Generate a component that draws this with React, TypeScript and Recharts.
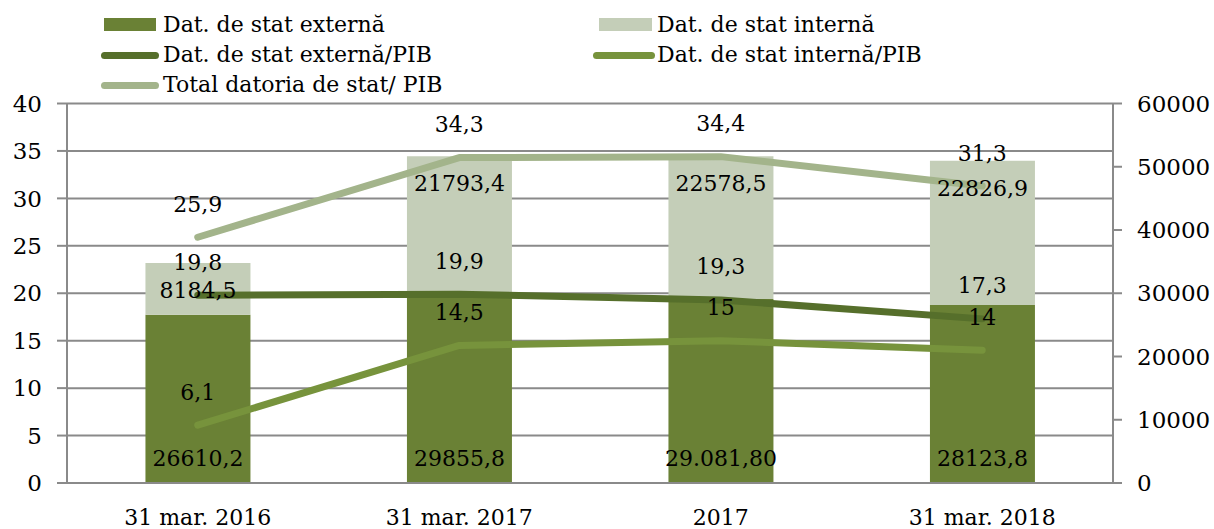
import React from 'react';
import { ComposedChart, Bar, Line, XAxis, YAxis, CartesianGrid, LabelList } from 'recharts';

const categories = ['31 mar. 2016', '31 mar. 2017', '2017', '31 mar. 2018'];
const extDebt = [26610.2, 29855.8, 29081.8, 28123.8];
const intDebt = [8184.5, 21793.4, 22578.5, 22826.9];
const extLabels = ['26610,2', '29855,8', '29.081,80', '28123,8'];
const intLabels = ['8184,5', '21793,4', '22578,5', '22826,9'];
const extPib = [19.8, 19.9, 19.3, 17.3];
const intPib = [6.1, 14.5, 15, 14];
const totalPib = [25.9, 34.3, 34.4, 31.3];
const leftTicks = [0, 5, 10, 15, 20, 25, 30, 35, 40];
const rightTicks = [0, 10000, 20000, 30000, 40000, 50000, 60000];
const boundaryTicks = [0, 1, 2, 3, 4];

const data = categories.map((c, i) => ({
  cat: c,
  ext: extDebt[i],
  int: intDebt[i],
  extPib: extPib[i],
  intPib: intPib[i],
  totalPib: totalPib[i],
}));

const FONT = "'DejaVu Serif', serif";
const GRID = '#8a8a8a';
const C_EXT = '#6a8135';
const C_INT = '#c4ceb8';
const C_EXTPIB = '#566f2b';
const C_INTPIB = '#77933c';
const C_TOTAL = '#a3b48b';

const fmt = (v: number) => String(v).replace('.', ',');

const txt = { fontFamily: FONT, fontSize: 22, fill: '#000' };

const LineLabel = (p: any) => (
  <text x={p.x} y={p.y - 33} textAnchor="middle" dominantBaseline="central" style={txt}>
    {fmt(p.value)}
  </text>
);

const ExtLabel = (p: any) => (
  <text x={p.x + p.width / 2} y={p.y + p.height - 25} textAnchor="middle" dominantBaseline="central" style={txt}>
    {extLabels[p.index]}
  </text>
);

const IntLabel = (p: any) => (
  <text x={p.x + p.width / 2} y={p.y + 27.5} textAnchor="middle" dominantBaseline="central" style={txt}>
    {intLabels[p.index]}
  </text>
);

const legendText: React.CSSProperties = {
  position: 'absolute',
  fontFamily: FONT,
  fontSize: 22,
  lineHeight: '30px',
  color: '#000',
  whiteSpace: 'nowrap',
};

const Legend = () => (
  <div style={{ position: 'absolute', left: 0, top: 0, width: 1214, height: 100, pointerEvents: 'none' }}>
    <div style={{ position: 'absolute', left: 104, top: 18, width: 52, height: 13, background: C_EXT }} />
    <div style={{ ...legendText, left: 163, top: 10 }}>Dat. de stat externă</div>
    <div style={{ position: 'absolute', left: 599, top: 18, width: 53, height: 13, background: C_INT }} />
    <div style={{ ...legendText, left: 657, top: 10 }}>Dat. de stat internă</div>
    <div style={{ position: 'absolute', left: 101, top: 51.5, width: 58, height: 7, borderRadius: 3.5, background: C_EXTPIB }} />
    <div style={{ ...legendText, left: 163, top: 40 }}>Dat. de stat externă/PIB</div>
    <div style={{ position: 'absolute', left: 593, top: 51.5, width: 62, height: 7, borderRadius: 3.5, background: C_INTPIB }} />
    <div style={{ ...legendText, left: 657, top: 40 }}>Dat. de stat internă/PIB</div>
    <div style={{ position: 'absolute', left: 101, top: 81.5, width: 58, height: 7, borderRadius: 3.5, background: C_TOTAL }} />
    <div style={{ ...legendText, left: 163, top: 70 }}>Total datoria de stat/ PIB</div>
  </div>
);

export default function App() {
  return (
    <div style={{ position: 'absolute', left: 0, top: 0, width: 1214, height: 529, background: '#fff' }}>
      <ComposedChart
        width={1214}
        height={529}
        data={data}
        margin={{ top: 103.5, right: 0, bottom: 0, left: 0 }}
        barCategoryGap="30%"
      >
        <CartesianGrid
          yAxisId="left"
          xAxisId="cat"
          horizontal
          vertical={false}
          stroke={GRID}
          strokeWidth={2}
        />
        <XAxis
          xAxisId="b"
          type="number"
          domain={[0, 4]}
          ticks={boundaryTicks}
          allowDataOverflow
          tick={false}
          tickSize={9}
          tickLine={{ stroke: GRID, strokeWidth: 2 }}
          axisLine={{ stroke: GRID, strokeWidth: 2 }}
          height={1}
        />
        <XAxis
          xAxisId="cat"
          dataKey="cat"
          interval={0}
          tickLine={false}
          axisLine={false}
          tickSize={0}
          tickMargin={25}
          height={45}
          tick={{ fontFamily: FONT, fontSize: 22, fill: '#000' }}
        />
        <YAxis
          yAxisId="left"
          domain={[0, 40]}
          ticks={leftTicks}
          interval={0}
          width={67}
          tickSize={10}
          tickMargin={15}
          tickLine={{ stroke: GRID, strokeWidth: 2 }}
          axisLine={{ stroke: GRID, strokeWidth: 2 }}
          tick={{ fontFamily: FONT, fontSize: 23, fill: '#000' }}
        />
        <YAxis
          yAxisId="right"
          orientation="right"
          domain={[0, 60000]}
          ticks={rightTicks}
          interval={0}
          width={101}
          tickSize={9}
          tickMargin={15}
          tickLine={{ stroke: GRID, strokeWidth: 2 }}
          axisLine={{ stroke: GRID, strokeWidth: 2 }}
          tick={{ fontFamily: FONT, fontSize: 23, fill: '#000' }}
        />
        <Bar xAxisId="cat" yAxisId="right" dataKey="ext" stackId="a" fill={C_EXT} isAnimationActive={false}>
          <LabelList dataKey="ext" content={ExtLabel} />
        </Bar>
        <Bar xAxisId="cat" yAxisId="right" dataKey="int" stackId="a" fill={C_INT} isAnimationActive={false}>
          <LabelList dataKey="int" content={IntLabel} />
        </Bar>
        <Line
          xAxisId="cat"
          yAxisId="left"
          dataKey="extPib"
          stroke={C_EXTPIB}
          strokeWidth={7}
          strokeLinecap="round"
          strokeLinejoin="round"
          dot={false}
          activeDot={false}
          isAnimationActive={false}
        >
          <LabelList dataKey="extPib" content={LineLabel} />
        </Line>
        <Line
          xAxisId="cat"
          yAxisId="left"
          dataKey="intPib"
          stroke={C_INTPIB}
          strokeWidth={7}
          strokeLinecap="round"
          strokeLinejoin="round"
          dot={false}
          activeDot={false}
          isAnimationActive={false}
        >
          <LabelList dataKey="intPib" content={LineLabel} />
        </Line>
        <Line
          xAxisId="cat"
          yAxisId="left"
          dataKey="totalPib"
          stroke={C_TOTAL}
          strokeWidth={7}
          strokeLinecap="round"
          strokeLinejoin="round"
          dot={false}
          activeDot={false}
          isAnimationActive={false}
        >
          <LabelList dataKey="totalPib" content={LineLabel} />
        </Line>
      </ComposedChart>
      <Legend />
    </div>
  );
}
